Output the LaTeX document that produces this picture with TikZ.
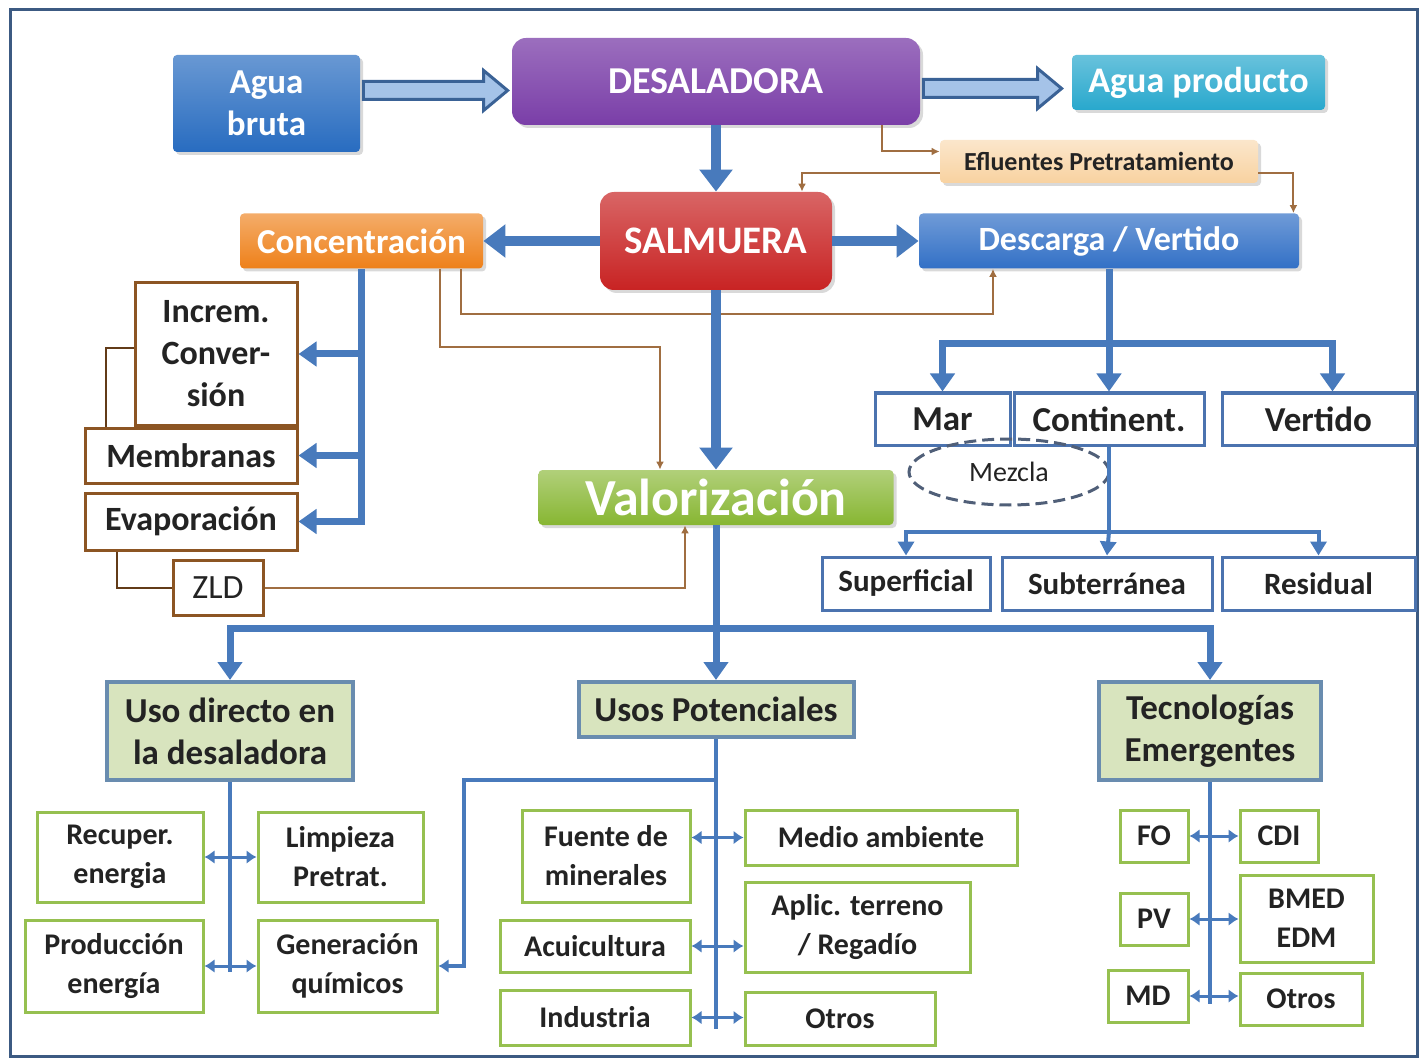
\documentclass[tikz,border=0pt]{standalone}
\usepackage{fontspec}
\setmainfont{Carlito}
\usepackage{xcolor}
\definecolor{brutablue}{RGB}{40,108,192}
\definecolor{desalpurple}{RGB}{122,62,168}
\definecolor{prodcyan}{RGB}{40,168,205}
\definecolor{eflpeach}{RGB}{248,210,160}
\definecolor{salmred}{RGB}{200,35,35}
\definecolor{concorange}{RGB}{238,128,25}
\definecolor{descblue}{RGB}{50,112,198}
\definecolor{valgreen}{RGB}{135,182,50}
\definecolor{flowblue}{RGB}{72,122,188}
\definecolor{hollowfill}{RGB}{165,195,232}
\definecolor{brownline}{RGB}{160,110,65}
\definecolor{brownedge}{RGB}{140,85,35}
\definecolor{boxblue}{RGB}{75,115,175}
\definecolor{headfill}{RGB}{216,228,190}
\definecolor{headedge}{RGB}{105,140,175}
\definecolor{leafedge}{RGB}{150,192,80}
\definecolor{mezedge}{RGB}{80,95,120}
\definecolor{framecol}{RGB}{60,90,130}
\definecolor{txtdark}{RGB}{35,35,35}
\usepackage{tikz}
\usetikzlibrary{shapes.geometric, arrows.meta, calc, shadows}

\tikzset{
    colbox/.style={rectangle, rounded corners=2pt, text=white, align=center, inner sep=0pt,
        drop shadow={opacity=0.3, shadow xshift=1.5pt, shadow yshift=-1.5pt},
        font=\fontsize{17.5}{21}\selectfont\bfseries},
    brownbox/.style={rectangle, draw=brownedge, line width=1.5pt, fill=white, text=txtdark,
        align=center, inner sep=0pt, font=\fontsize{17}{21}\selectfont\bfseries},
    bluebox/.style={rectangle, draw=boxblue, line width=1.5pt, fill=white, text=txtdark,
        align=center, inner sep=0pt, font=\fontsize{17.5}{21}\selectfont\bfseries},
    headbox/.style={rectangle, draw=headedge, line width=2pt, fill=headfill, text=txtdark,
        align=center, inner sep=0pt, font=\fontsize{17.5}{21}\selectfont\bfseries},
    leafbox/.style={rectangle, draw=leafedge, line width=1.5pt, fill=white, text=txtdark,
        align=center, inner sep=0pt, font=\fontsize{15}{19.5}\selectfont\bfseries},
    bigflow/.style={flowblue, line width=5pt, -{Triangle[width=16pt,length=11pt]}},
    midflow/.style={flowblue, line width=3.5pt, -{Triangle[width=12pt,length=9pt]}},
    thinflow/.style={flowblue, line width=2pt, -{Triangle[width=8pt,length=7pt]}},
    leafline/.style={flowblue, line width=2pt},
    dblarrow/.style={flowblue, line width=1.5pt, {Latex[length=5pt,width=7pt]}-{Latex[length=5pt,width=7pt]}},
    brownflow/.style={brownline, line width=1pt, -{Latex[length=4pt,width=4pt]}},
    greyline/.style={brownedge!70!black, line width=1pt},
    hollowarrow/.style={fill=hollowfill, draw=flowblue!80!black, line width=1.5pt, line join=miter}
}

\begin{document}
\begin{tikzpicture}[x=0.5pt, y=-0.5pt]
    \useasboundingbox (0,0) rectangle (1425,1059);
    \draw[framecol, line width=1.5pt] (10,10) rectangle (1417,1056);

    % top row
    \node[colbox, top color=brutablue!70, bottom color=brutablue, minimum width=93.5pt, minimum height=48.5pt] (bruta) at (266.5,103.5) {Agua\\bruta};
    \node[colbox, rounded corners=7pt, top color=desalpurple!75, bottom color=desalpurple, minimum width=204pt, minimum height=43.5pt, font=\fontsize{19}{23}\selectfont\bfseries] (desal) at (716,81.5) {DESALADORA};
    \node[colbox, top color=prodcyan!70, bottom color=prodcyan, minimum width=126.5pt, minimum height=27.5pt, font=\fontsize{18}{22}\selectfont\bfseries] (producto) at (1198.5,82.5) {Agua producto};
    \node[colbox, text=txtdark, top color=eflpeach!55, bottom color=eflpeach, minimum width=159pt, minimum height=21.5pt, font=\fontsize{13}{16}\selectfont\bfseries] (efl) at (1099,161.5) {Efluentes Pretratamiento};
    \node[colbox, rounded corners=7pt, top color=salmred!70, bottom color=salmred, minimum width=116pt, minimum height=49pt, font=\fontsize{19.5}{23}\selectfont\bfseries] (salm) at (716,241) {SALMUERA};
    \node[colbox, top color=concorange!65, bottom color=concorange, minimum width=121.5pt, minimum height=27.5pt] (conc) at (361.5,241) {Concentración};
    \node[colbox, top color=descblue!70, bottom color=descblue, minimum width=190pt, minimum height=27.5pt, font=\fontsize{17}{21}\selectfont\bfseries] (descarga) at (1109,241) {Descarga / Vertido};
    \node[colbox, top color=valgreen!65, bottom color=valgreen, minimum width=177.5pt, minimum height=27.5pt, font=\fontsize{26}{30}\selectfont\bfseries] (valor) at (716,497.5) {Valorización};

    % concentracion
    \node[brownbox, minimum width=81pt, minimum height=71pt] (increm) at (216,354) {Increm.\\Conver-\\sión};
    \node[brownbox, minimum width=106pt, minimum height=27.5pt] (membr) at (191,455.5) {Membranas};
    \node[brownbox, minimum width=106pt, minimum height=28.5pt] (evap) at (191,521.5) {Evaporación};
    \node[brownbox, minimum width=45pt, minimum height=27.5pt, font=\fontsize{17}{21}\selectfont] (zld) at (218,587.5) {ZLD};

    % descarga
    \node[bluebox, minimum width=67.5pt, minimum height=26pt] (mar) at (942.5,419) {Mar};
    \node[bluebox, minimum width=95pt, minimum height=26pt] (cont) at (1109,419) {Continent.};
    \node[bluebox, minimum width=96.5pt, minimum height=26pt] (vert) at (1318.5,419) {Vertido};
    \node[ellipse, draw=mezedge, line width=1.5pt, dash pattern=on 6pt off 3pt, minimum width=100pt, minimum height=33pt, inner sep=0pt, text=txtdark, font=\fontsize{14}{17}\selectfont] (mezcla) at (1009,472) {Mezcla};
    \node[bluebox, minimum width=84pt, minimum height=26.5pt, font=\fontsize{15.5}{19}\selectfont\bfseries] (sup) at (906,583.5) {Superficial};
    \node[bluebox, minimum width=105pt, minimum height=26.5pt, font=\fontsize{15.5}{19}\selectfont\bfseries] (sub) at (1107,583.5) {Subterránea};
    \node[bluebox, minimum width=96.5pt, minimum height=26.5pt, font=\fontsize{15.5}{19}\selectfont\bfseries] (resid) at (1318.5,583.5) {Residual};

    % valorizacion
    \node[headbox, minimum width=123pt, minimum height=49pt] (uso) at (230,731) {Uso directo en\\la desaladora};
    \node[headbox, minimum width=137.5pt, minimum height=27.5pt] (usos) at (716,709.5) {Usos Potenciales};
    \node[headbox, minimum width=111pt, minimum height=49pt] (tecno) at (1210,731) {Tecnologías\\Emergentes};

    \node[leafbox, minimum width=83pt, minimum height=45pt] (recup) at (120,857) {Recuper.\\energia};
    \node[leafbox, minimum width=82.5pt, minimum height=45pt] (limp) at (340.5,857) {Limpieza\\Pretrat.};
    \node[leafbox, minimum width=89pt, minimum height=46pt] (prod) at (114,966) {Producción\\energía};
    \node[leafbox, minimum width=89.5pt, minimum height=46pt] (gener) at (347.5,966) {Generación\\químicos};

    \node[leafbox, minimum width=84pt, minimum height=46pt] (fuente) at (606,856) {Fuente de\\minerales};
    \node[leafbox, minimum width=136pt, minimum height=27.5pt] (medio) at (881,837.5) {Medio ambiente};
    \node[leafbox, minimum width=95pt, minimum height=26pt] (acui) at (595,946) {Acuicultura};
    \node[leafbox, minimum width=112.5pt, minimum height=45pt] (aplic) at (857.5,927) {Aplic. terreno\\/ Regadío};
    \node[leafbox, minimum width=95pt, minimum height=27.5pt] (indus) at (595,1017.5) {Industria};
    \node[leafbox, minimum width=95pt, minimum height=26.5pt] (otrosp) at (840,1018.5) {Otros};

    \node[leafbox, minimum width=34pt, minimum height=26pt] (fo) at (1154,836) {FO};
    \node[leafbox, minimum width=39pt, minimum height=26pt] (cdi) at (1279,836) {CDI};
    \node[leafbox, minimum width=34pt, minimum height=26pt] (pv) at (1154,919) {PV};
    \node[leafbox, minimum width=66.5pt, minimum height=43.5pt] (bmed) at (1306.5,918.5) {BMED\\EDM};
    \node[leafbox, minimum width=40pt, minimum height=26pt] (md) at (1148,996) {MD};
    \node[leafbox, minimum width=61pt, minimum height=26pt] (otrost) at (1301,999) {Otros};

    % hollow arrows
    \filldraw[hollowarrow] let \p1=($(bruta.east)+(3,-13)$), \p2=(desal.west) in
        (\x1,\y1+4.5pt) -- (\x2-14pt,\y1+4.5pt) -- (\x2-14pt,\y1+10pt) -- (\x2-2pt,\y1)
        -- (\x2-14pt,\y1-10pt) -- (\x2-14pt,\y1-4.5pt) -- (\x1,\y1-4.5pt) -- cycle;
    \filldraw[hollowarrow] let \p1=($(desal.east)+(3,7)$), \p2=(producto.west) in
        (\x1,\y1+4.5pt) -- (\x2-17pt,\y1+4.5pt) -- (\x2-17pt,\y1+10pt) -- (\x2-5pt,\y1)
        -- (\x2-17pt,\y1-10pt) -- (\x2-17pt,\y1-4.5pt) -- (\x1,\y1-4.5pt) -- cycle;

    % brown connectors
    \draw[brownflow] ($(desal.south east)+(-38,0)$) |- ($(efl.west)+(0,-10)$);
    \draw[brownflow] ($(efl.west)+(0,12)$) -| ($(salm.north)+(86,0)$);
    \draw[brownflow] ($(efl.east)+(0,12)$) -| ($(descarga.north east)+(-6,0)$);
    \draw[brownflow] ($(conc.south)+(99,0)$) -- ++(0,45) -| ($(descarga.south)+(-116,0)$);
    \draw[brownflow] ($(conc.south)+(78,0)$) -- ++(0,78) -| ($(valor.north)+(-56,0)$);
    \draw[brownflow] (zld.east) -| ($(valor.south)+(-31,0)$);
    \draw[greyline] ($(increm.west)+(0,-6)$) -| ($(membr.north west)+(22,0)$);
    \draw[greyline] ($(evap.south west)+(33,0)$) |- (zld.west);

    % main flow
    \draw[bigflow] (desal.south) -- (salm.north);
    \draw[bigflow] (salm.west) -- (conc.east);
    \draw[bigflow] (salm.east) -- (descarga.west);
    \draw[bigflow] (salm.south) -- (valor.north);

    \draw[midflow] (conc.south) -- (conc.south |- evap.east) -- (evap.east);
    \draw[midflow] (increm.east -| conc.south) -- (increm.east);
    \draw[midflow] (membr.east -| conc.south) -- (membr.east);

    \coordinate (dsplit) at ($(descarga.south)+(0,75)$);
    \draw[midflow, -] (descarga.south) -- (dsplit);
    \draw[midflow] (dsplit) -- (cont.north);
    \draw[midflow] (dsplit) -| (mar.north);
    \draw[midflow] (dsplit) -| ($(vert.north)+(14,0)$);

    \coordinate (msplit) at ($(cont.south)+(0,85)$);
    \draw[thinflow, -] (cont.south) -- (msplit);
    \draw[thinflow] (msplit) -- (sub.north);
    \draw[thinflow] (msplit) -| (sup.north);
    \draw[thinflow] (msplit) -| (resid.north);

    \coordinate (vsplit) at ($(valor.south)+(0,103)$);
    \draw[midflow, -] (valor.south) -- (vsplit);
    \draw[midflow] (vsplit) -- (usos.north);
    \draw[midflow] (vsplit) -| (uso.north);
    \draw[midflow] (vsplit) -| (tecno.north);

    % leaf branches
    \draw[leafline] (uso.south) -- ++(0,190);
    \draw[dblarrow] (recup.east) -- (limp.west);
    \draw[dblarrow] (prod.east) -- (gener.west);

    \draw[leafline] (usos.south) -- ++(0,290);
    \draw[dblarrow] (fuente.east |- medio.west) -- (medio.west);
    \draw[dblarrow] (acui.east) -- (aplic.west |- acui.east);
    \draw[dblarrow] (indus.east) -- (otrosp.west |- indus.east);
    \draw[leafline, -{Latex[length=5pt,width=7pt]}] ($(usos.south)+(0,41)$) -| ($(gener.east)+(25,0)$) -- (gener.east);

    \draw[leafline] (tecno.south) -- ++(0,222);
    \draw[dblarrow] (fo.east) -- (cdi.west);
    \draw[dblarrow] (pv.east) -- (bmed.west |- pv.east);
    \draw[dblarrow] (md.east) -- (otrost.west |- md.east);
\end{tikzpicture}
\end{document}
